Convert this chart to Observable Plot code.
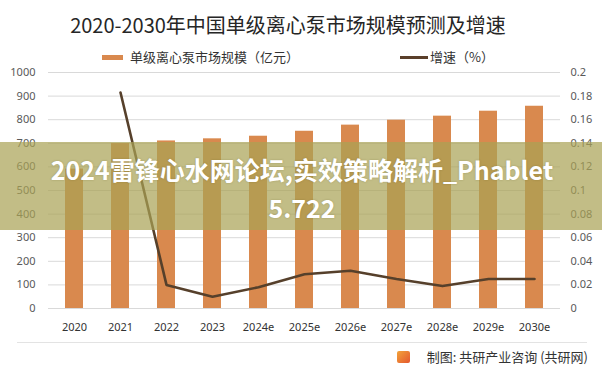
<!DOCTYPE html>
<html>
<head>
<meta charset="utf-8">
<script src="https://cdn.jsdelivr.net/npm/d3@7"></script>
<script src="https://cdn.jsdelivr.net/npm/@observablehq/plot@0.6"></script>
<style>
  html, body { margin: 0; padding: 0; background: #fff; }
  #wrap { position: relative; width: 602px; height: 373px; overflow: hidden; background: #fff;
          font-family: "Noto Sans CJK SC", "Noto Sans", sans-serif; }
  .abs { position: absolute; }
  #title { left: 0; width: 576px; top: 10px; text-align: center; font-size: 20px; color: #262626; line-height: 30px; white-space: nowrap; }
  .legtext { font-size: 13px; color: #333; line-height: 16px; white-space: nowrap; }
  #chart1, #chart2 { left: 0; top: 60px; }
  #banner { left: 0; top: 142px; width: 602px; height: 88px; background: rgba(169,162,85,0.71); }
  .btext { left: 0; width: 604px; text-align: center; color: #fff; font-weight: 700; font-size: 25px;
           line-height: 34px; white-space: nowrap; text-shadow: 0 0 2px rgba(90,80,30,0.35); }
  #sep { left: 17px; top: 342px; width: 570px; height: 1px; background: #e3e3e3; }
  #caption { right: 14px; top: 348px; font-size: 13px; color: #333; line-height: 18px; white-space: nowrap; }
  #logo { left: 397px; top: 351px; width: 13px; height: 12px; border-radius: 2px;
          background: linear-gradient(135deg, #f2a33a, #e4572e); }
</style>
</head>
<body>
<div id="wrap">
  <div id="title" class="abs">2020-2030年中国单级离心泵市场规模预测及增速</div>
  <div class="abs" style="left:102px;top:55px;width:21px;height:5px;background:#D9894E"></div>
  <div class="abs legtext" style="left:130px;top:49px">单级离心泵市场规模（亿元）</div>
  <div class="abs" style="left:400px;top:56px;width:28px;height:3px;background:#5a3f2a"></div>
  <div class="abs legtext" style="left:430px;top:49px">增速（%）</div>
  <div id="chart1" class="abs"></div>
  <div id="chart2" class="abs"></div>
  <div id="banner" class="abs"></div>
  <div class="abs btext" style="top:152px">2024雷锋心水网论坛,实效策略解析_Phablet</div>
  <div class="abs btext" style="top:190px">5.722</div>
  <div id="sep" class="abs"></div>
  <div id="logo" class="abs"></div>
  <div id="caption" class="abs">制图: 共研产业咨询 (共研网)</div>
</div>
<script>
// ---- data ----
const years = ["2020","2021","2022","2023","2024e","2025e","2026e","2027e","2028e","2029e","2030e"];
const marketSize = [591, 699, 710, 719, 730, 751, 777, 798, 815, 836, 857];
const growthYears = ["2021","2022","2023","2024e","2025e","2026e","2027e","2028e","2029e","2030e"];
const growthRate = [0.183, 0.020, 0.010, 0.018, 0.029, 0.032, 0.025, 0.019, 0.025, 0.025];
const leftTicks = [0,100,200,300,400,500,600,700,800,900,1000];
const rightTicks = [0,0.02,0.04,0.06,0.08,0.1,0.12,0.14,0.16,0.18,0.2];

const bars = years.map((y, i) => ({year: y, value: marketSize[i]}));
const growth = growthYears.map((y, i) => ({year: y, rate: growthRate[i]}));

const common = {
  width: 602, height: 280,
  marginTop: 12, marginBottom: 32, marginLeft: 48, marginRight: 42,
  style: {background: "transparent", fontFamily: "'Noto Sans', sans-serif", fontSize: "11px", overflow: "visible"}
};

const chart1 = Plot.plot({
  ...common,
  x: {type: "band", domain: years, paddingInner: 0.6, paddingOuter: 0.3},
  y: {domain: [0, 1000]},
  marks: [
    Plot.gridY(leftTicks, {stroke: "#d9d9d9", strokeOpacity: 1}),
    Plot.barY(bars, {x: "year", y: "value", fill: "#D9894E"}),
    Plot.axisY(leftTicks, {tickSize: 0, tickPadding: 13, label: null, fill: "#595959", fontSize: 11,
      tickFormat: d => String(d)}),
    Plot.axisX({tickSize: 0, tickPadding: 15, label: null, fill: "#333", fontSize: 11})
  ]
});
document.getElementById("chart1").appendChild(chart1);

const chart2 = Plot.plot({
  ...common,
  x: {type: "point", domain: years, padding: 0.5, axis: null},
  y: {domain: [0, 0.2]},
  marks: [
    Plot.line(growth, {x: "year", y: "rate", stroke: "#56402b", strokeWidth: 2.6}),
    Plot.axisY(rightTicks, {anchor: "right", tickSize: 0, tickPadding: 10, label: null, fill: "#595959", fontSize: 11,
      tickFormat: d => d === 0 ? "0" : String(+d.toFixed(2))})
  ]
});
document.getElementById("chart2").appendChild(chart2);
</script>
</body>
</html>
